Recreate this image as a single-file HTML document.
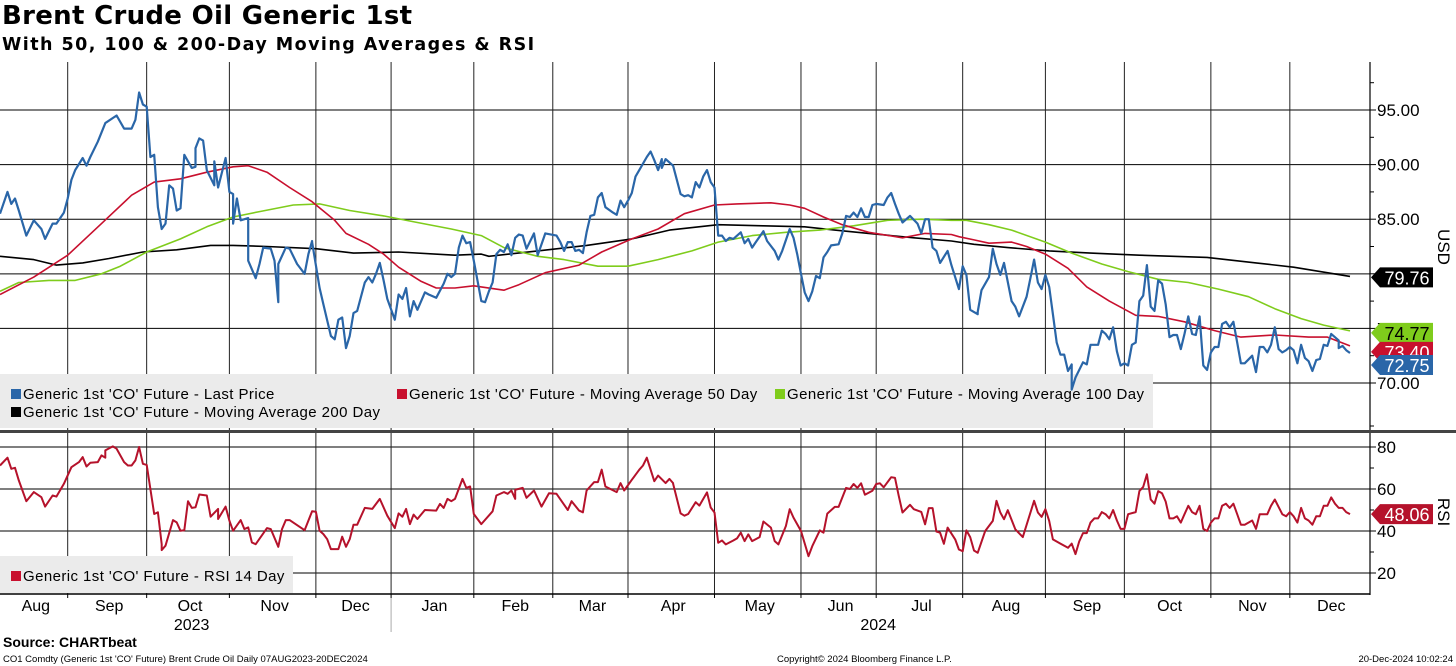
<!DOCTYPE html>
<html><head><meta charset="utf-8"><style>
html,body{margin:0;padding:0;background:#fff;width:1456px;height:666px;overflow:hidden;font-family:"Liberation Sans",sans-serif;}
#title{position:absolute;left:2px;top:1px;font-family:"DejaVu Sans",sans-serif;font-size:26px;font-weight:bold;color:#000;letter-spacing:0.3px;}
#subtitle{position:absolute;left:2px;top:35px;font-family:"DejaVu Sans",sans-serif;font-size:17.5px;font-weight:bold;color:#000;letter-spacing:1.45px;}
svg{position:absolute;left:0;top:0;}
</style></head><body>
<div id="title">Brent Crude Oil Generic 1st</div>
<div id="subtitle">With 50, 100 &amp; 200-Day Moving Averages &amp; RSI</div>
<svg id="chart" width="1456" height="666"></svg>
<script>
const priceTicks=[70,75,80,85,90,95];
const rsiTicks=[20,40,60,80];
const monthStarts=[0,18,39,61,84,104,126,147,167,190,213,233,256,278,299,322,343,364];
const monthNames=["Aug","Sep","Oct","Nov","Dec","Jan","Feb","Mar","Apr","May","Jun","Jul","Aug","Sep","Oct","Nov","Dec"];
const price=[[0,85.5],[2,87.5],[3,86.4],[4,86.9],[5,85.8],[7,83.5],[9,84.9],[11,84.1],[12,83.2],[14,84.6],[15,84.6],[17,85.6],[18,86.9],[19,88.6],[20,89.5],[22,90.6],[23,89.9],[24,90.7],[26,92.1],[28,93.8],[31,94.5],[33,93.3],[35,93.3],[36,94.1],[37,96.6],[38,95.5],[39,95.3],[40,90.7],[41,90.9],[42,86.1],[43,84.1],[44,84.6],[45,88.1],[46,87.8],[47,85.8],[48,86.0],[49,90.9],[51,89.7],[52,89.8],[52,91.5],[53,92.4],[54,92.2],[55,89.5],[57,88.1],[57,90.3],[58,87.9],[60,90.6],[61,87.5],[62,87.3],[62,84.6],[63,86.9],[64,84.9],[66,85.1],[66,81.2],[68,79.6],[69,80.9],[70,82.4],[72,82.3],[73,81.2],[74,77.4],[74,80.9],[76,82.4],[77,82.3],[79,80.9],[81,80.0],[82,81.8],[83,83.0],[83,82.9],[85,78.7],[86,77.2],[88,74.3],[89,74.0],[90,75.8],[91,76.0],[92,73.2],[93,74.3],[94,76.4],[95,76.6],[97,79.2],[98,79.7],[99,79.2],[100,80.0],[101,81.0],[102,79.4],[103,77.7],[105,75.8],[106,78.1],[107,77.7],[108,78.7],[109,76.1],[110,77.5],[111,76.7],[113,78.3],[114,78.1],[116,77.8],[118,79.1],[119,80.0],[120,79.7],[121,80.0],[122,82.4],[123,83.5],[124,82.8],[125,82.9],[126,81.2],[128,77.5],[129,77.4],[130,78.4],[131,79.2],[132,81.8],[133,82.2],[134,82.0],[135,82.7],[136,81.7],[137,83.3],[138,83.6],[139,83.5],[140,82.3],[142,83.7],[143,81.7],[145,83.7],[148,83.5],[149,82.9],[150,82.1],[151,82.9],[152,82.9],[153,82.1],[154,82.2],[155,81.9],[156,83.8],[157,85.3],[158,85.4],[159,87.0],[160,87.4],[161,86.1],[163,85.6],[164,85.4],[165,86.7],[166,86.1],[167,86.7],[168,87.4],[169,88.9],[170,89.5],[172,90.7],[173,91.2],[174,90.4],[175,89.5],[176,90.5],[176,89.7],[177,90.5],[179,89.9],[181,87.3],[182,87.1],[183,87.2],[184,87.0],[185,88.4],[186,87.9],[187,88.9],[188,89.5],[189,88.4],[190,87.9],[191,83.5],[192,83.5],[193,83.0],[194,83.3],[195,83.2],[197,83.8],[198,82.8],[199,83.2],[200,82.4],[201,82.9],[203,83.9],[204,83.0],[206,82.1],[207,81.3],[208,82.1],[210,84.1],[211,83.3],[212,81.8],[213,80.0],[214,78.3],[215,77.5],[216,78.4],[217,79.8],[218,79.6],[219,81.5],[220,82.0],[221,82.6],[223,82.7],[224,83.7],[225,85.3],[226,85.2],[227,85.6],[228,85.2],[229,86.0],[230,85.2],[231,85.2],[232,86.3],[233,86.4],[235,86.3],[236,87.0],[237,87.4],[238,86.4],[239,85.5],[240,84.7],[242,85.3],[244,84.6],[245,83.7],[246,85.0],[247,85.0],[248,82.4],[249,82.1],[250,81.0],[252,82.1],[253,80.8],[255,78.6],[256,80.7],[257,79.9],[258,76.7],[260,76.3],[260,76.5],[261,78.5],[263,79.7],[264,82.3],[265,80.9],[266,79.9],[267,81.0],[269,77.5],[270,77.0],[271,76.1],[273,77.9],[274,79.6],[275,81.3],[276,79.2],[277,78.6],[278,79.9],[279,78.8],[280,76.3],[281,73.7],[282,72.6],[283,72.6],[284,71.1],[285,71.7],[285,69.4],[286,70.5],[288,71.9],[289,71.7],[290,73.5],[292,73.5],[293,74.8],[294,74.5],[295,74.0],[296,75.1],[297,72.9],[298,71.6],[299,71.8],[300,71.6],[301,73.5],[302,73.7],[303,77.5],[304,78.0],[305,80.8],[306,77.0],[307,76.6],[308,79.4],[309,79.1],[310,77.2],[311,74.2],[312,74.4],[313,74.4],[314,73.1],[315,74.5],[316,76.1],[317,74.5],[318,74.4],[319,76.1],[320,71.6],[321,71.2],[322,72.8],[323,73.3],[324,73.3],[325,75.4],[326,75.6],[327,75.1],[328,75.6],[329,73.7],[330,71.8],[331,71.8],[333,72.5],[334,71.0],[335,73.3],[336,73.3],[337,72.8],[338,73.5],[339,75.1],[340,73.1],[341,72.8],[342,73.0],[343,73.3],[344,73.0],[345,71.8],[346,73.5],[347,72.3],[348,72.0],[349,71.1],[350,72.1],[351,72.2],[352,73.5],[353,73.4],[354,74.5],[356,73.9],[356,73.2],[357,73.4],[358,73.0],[359,72.75]];
const ma50=[[0,78.1],[9,79.7],[18,81.7],[27,84.6],[35,87.2],[41,88.4],[48,88.7],[55,89.3],[62,89.8],[66,89.9],[71,89.3],[77,87.9],[83,86.6],[89,84.9],[92,83.7],[98,82.7],[102,81.8],[106,80.6],[112,79.3],[116,78.7],[121,78.7],[126,78.9],[128,78.8],[134,78.5],[138,79.0],[145,80.1],[154,80.8],[160,82.0],[168,83.2],[175,84.1],[182,85.5],[190,86.3],[196,86.4],[205,86.5],[210,86.3],[214,86.0],[219,85.2],[224,84.5],[231,83.8],[240,83.3],[246,83.7],[253,83.6],[255,83.4],[259,83.1],[263,82.8],[269,82.9],[273,82.5],[278,81.8],[284,80.5],[289,78.8],[295,77.5],[302,76.2],[308,76.1],[315,75.6],[323,74.8],[330,74.2],[339,74.4],[348,74.2],[353,74.2],[359,73.4]];
const ma100=[[0,78.4],[5,79.2],[13,79.4],[20,79.4],[27,80.0],[32,80.7],[39,82.0],[48,83.2],[55,84.3],[62,85.2],[69,85.7],[78,86.3],[85,86.4],[93,85.8],[102,85.3],[111,84.7],[120,84.1],[128,83.5],[134,82.4],[143,81.6],[150,81.3],[159,80.7],[167,80.7],[175,81.3],[184,82.1],[191,82.9],[200,83.5],[209,83.8],[218,84.0],[227,84.4],[236,84.9],[245,85.0],[253,84.9],[257,84.9],[263,84.5],[269,84.0],[278,82.9],[285,81.9],[293,80.9],[300,80.2],[308,79.5],[316,79.2],[324,78.6],[332,77.9],[339,76.8],[346,75.9],[352,75.3],[359,74.77]];
const ma200=[[0,81.6],[9,81.3],[15,80.8],[22,81.0],[29,81.4],[38,82.0],[47,82.2],[56,82.6],[62,82.6],[71,82.5],[84,82.3],[94,81.9],[106,82.0],[121,81.7],[128,81.8],[130,81.6],[143,82.1],[156,82.6],[168,83.2],[178,84.0],[191,84.5],[203,84.4],[214,84.3],[222,84.0],[231,83.7],[243,83.3],[253,83.0],[259,82.7],[268,82.4],[279,82.1],[290,81.9],[303,81.7],[321,81.5],[334,81.0],[344,80.6],[359,79.76]];
const rsi=[[0,71.2],[2,74.9],[3,69.6],[4,70.1],[5,64.1],[7,54.2],[9,58.5],[11,56.1],[12,51.6],[14,56.9],[15,56.4],[17,62.5],[19,70.4],[21,72.8],[22,75.2],[23,70.7],[24,72.5],[26,72.8],[27,76.0],[28,74.9],[28,78.4],[30,80.3],[31,79.2],[33,72.8],[34,71.2],[35,71.2],[36,73.6],[37,80.0],[38,72.0],[39,71.5],[41,48.1],[42,48.9],[43,33.7],[43,30.9],[44,33.0],[46,45.2],[47,44.1],[48,40.1],[49,40.4],[50,54.2],[51,51.0],[52,51.3],[53,57.4],[55,56.9],[56,46.8],[58,50.5],[58,45.7],[60,51.6],[61,44.9],[61,44.9],[62,40.1],[64,45.2],[65,40.9],[66,41.7],[67,34.5],[68,33.7],[71,41.4],[72,40.9],[74,32.5],[75,40.9],[76,45.2],[77,45.2],[81,40.4],[83,49.4],[84,49.2],[85,40.1],[86,38.5],[87,36.1],[88,31.4],[90,31.4],[91,37.3],[92,32.5],[93,36.1],[94,43.0],[95,43.0],[97,51.0],[99,50.5],[101,55.3],[103,47.3],[105,41.4],[106,48.4],[107,46.8],[108,50.5],[109,43.3],[110,47.8],[111,45.7],[113,50.0],[116,49.7],[117,52.9],[118,51.0],[119,55.3],[120,54.2],[121,55.3],[123,64.8],[124,60.5],[125,61.2],[126,48.1],[128,43.3],[131,49.4],[132,56.9],[134,58.5],[135,57.7],[136,59.3],[137,55.3],[137,59.6],[139,60.5],[140,55.8],[142,59.3],[144,51.6],[146,58.0],[148,57.7],[151,50.0],[152,54.2],[154,49.7],[155,48.9],[156,59.3],[158,63.3],[159,63.3],[160,69.2],[161,61.2],[164,58.5],[165,62.8],[166,59.3],[168,64.4],[170,69.2],[171,71.2],[172,74.9],[174,63.7],[175,66.4],[177,62.8],[178,64.8],[179,62.8],[179,62.5],[181,48.4],[182,47.3],[183,48.1],[185,53.7],[186,52.1],[188,58.4],[189,51.2],[190,48.8],[191,34.4],[192,35.5],[193,33.6],[195,35.5],[196,36.5],[197,39.2],[198,35.2],[199,38.4],[200,35.2],[202,37.1],[203,44.5],[205,41.6],[206,35.2],[207,33.6],[209,42.4],[210,50.4],[211,46.4],[213,40.0],[215,28.0],[216,32.8],[218,40.3],[219,39.2],[220,48.3],[222,51.5],[223,51.5],[225,60.5],[226,60.0],[227,62.4],[228,60.5],[229,62.7],[230,57.3],[232,59.2],[233,62.4],[234,62.7],[235,60.8],[237,65.6],[238,65.3],[239,56.8],[240,48.8],[242,52.5],[243,50.4],[245,49.1],[246,43.2],[247,50.9],[248,50.9],[249,39.7],[250,39.2],[251,33.9],[252,41.6],[254,36.0],[255,31.2],[256,30.4],[257,40.3],[258,37.1],[259,30.7],[260,29.6],[262,40.0],[264,44.8],[265,54.4],[266,48.8],[267,45.6],[268,49.9],[270,40.8],[272,37.1],[275,54.4],[276,48.8],[277,46.7],[278,50.4],[279,44.8],[280,36],[282,34],[284,32],[285,34],[286,29],[287,35],[288,39],[289,39],[290,44],[291,46],[292,46],[293,49],[294,48],[295,46],[296,50],[297,45],[298,41],[299,41],[300,48],[302,49],[303,59],[304,61],[305,67],[306,55],[307,53],[308,59],[309,58],[310,54],[311,46],[312,46],[313,47],[314,44],[315,48],[316,52],[317,49],[318,48],[319,52],[320,41],[321,40],[322,44],[323,46],[324,46],[325,52],[326,53],[327,51],[328,53],[329,48],[330,43],[331,43],[333,45],[334,41],[335,48],[337,48],[338,52],[339,55],[341,48],[342,47],[343,49],[344,47],[345,44],[346,51],[347,46],[348,45],[349,43],[350,47],[351,47],[352,52],[353,52],[354,56],[355,53],[356,51],[357,51],[358,49],[359,48.06]];
const lastLabels=[["79.76",79.76,"#000","#fff"],["74.77",74.77,"#7fcc1c","#000"],["73.40",73.40,"#c8102e","#fff"],["72.75",72.75,"#2a66a8","#fff"]];
const rsiLast="48.06";

const NS="http://www.w3.org/2000/svg";
const svg=document.getElementById('chart');
const PLOT_R=1370, T_MAX=359, X_MAX=1350;
function xS(t){return t*X_MAX/T_MAX;}
function yP(p){return 383-(p-70)*10.92;}
function yR(r){return 447+(80-r)*2.1;}
function mk(tag,attrs,parent){const e=document.createElementNS(NS,tag);for(const k in attrs)e.setAttribute(k,attrs[k]);(parent||svg).appendChild(e);return e;}

priceTicks.forEach(v=>{
  const l=mk('line',{x1:0,x2:PLOT_R,y1:yP(v),y2:yP(v),stroke:v===80?'#666':'#000','stroke-width':v===80?1.6:1});
  
  
  mk('line',{x1:PLOT_R,x2:PLOT_R+6,y1:yP(v),y2:yP(v),stroke:'#000'});
  const t=mk('text',{x:PLOT_R+7,y:yP(v)+6,'font-size':17,fill:'#000'});t.textContent=v.toFixed(2);
  
  
  mk('line',{x1:PLOT_R,x2:PLOT_R+4,y1:yP(v+2.5),y2:yP(v+2.5),stroke:'#000'});
});
rsiTicks.forEach(v=>{
  const l=mk('line',{x1:0,x2:PLOT_R,y1:yR(v),y2:yR(v),stroke:(v===60||v===80)?'#555':'#000','stroke-width':(v===60||v===80)?1.6:1});
  
  
  mk('line',{x1:PLOT_R,x2:PLOT_R+6,y1:yR(v),y2:yR(v),stroke:'#000'});
  mk('line',{x1:PLOT_R,x2:PLOT_R+4,y1:yR(v+10),y2:yR(v+10),stroke:'#000'});
  const t=mk('text',{x:PLOT_R+7,y:yR(v)+6,'font-size':17,fill:'#000'});t.textContent=v;
  
  
});
monthStarts.forEach((m,i)=>{
  if(i>0&&i<monthStarts.length-1){
    const l=mk('line',{x1:xS(m),x2:xS(m),y1:62,y2:594,stroke:'#222','stroke-width':1});
    
    
    mk('line',{x1:xS(m),x2:xS(m),y1:594,y2:598,stroke:'#000'});
  }
  if(i<monthNames.length){
    const cx=(xS(m)+xS(monthStarts[i+1]))/2+2;
    const t=mk('text',{x:cx,y:611,'font-size':16,'text-anchor':'middle',fill:'#000'});t.textContent=monthNames[i];
    
    
  }
});
[["2023",xS(39)+45],["2024",xS(233)+2]].forEach(([y,x])=>{
  const t=mk('text',{x:x,y:630,'font-size':16,'text-anchor':'middle',fill:'#000'});t.textContent=y;
  
  
});
mk('line',{x1:xS(104),x2:xS(104),y1:598,y2:632,stroke:'#aaa'});
mk('line',{x1:PLOT_R,x2:PLOT_R,y1:62,y2:595,stroke:'#000','stroke-width':1.2});
mk('line',{x1:0,x2:PLOT_R,y1:594,y2:594,stroke:'#000','stroke-width':1.5});
mk('rect',{x:0,y:430,width:1456,height:3,fill:'#444'});
const lg=mk('rect',{x:0,y:374,width:1153,height:54,fill:'#ebebeb'});


const rl=mk('rect',{x:0,y:556,width:293,height:37,fill:'#ebebeb'});


function legend(x,y,color,txt,name){
  const g=mk('g',{});
  
  
  mk('rect',{x:x,y:y-10,width:10,height:10,fill:color},g);
  const t=mk('text',{x:x+12,y:y,'font-size':15,'letter-spacing':0.42,fill:'#000'},g);t.textContent=txt;
}
legend(11,399,'#2a66a8',"Generic 1st 'CO' Future - Last Price",'legend-entry-last-price');
legend(397,399,'#c8102e',"Generic 1st 'CO' Future - Moving Average 50 Day",'legend-entry-ma50');
legend(775,399,'#7fcc1c',"Generic 1st 'CO' Future - Moving Average 100 Day",'legend-entry-ma100');
legend(11,417,'#000',"Generic 1st 'CO' Future - Moving Average 200 Day",'legend-entry-ma200');
legend(11,581,'#c8102e',"Generic 1st 'CO' Future - RSI 14 Day",'legend-entry-rsi');
function line(data,yf,color,w,name){
  const p=mk('polyline',{points:data.map(d=>xS(d[0]).toFixed(1)+','+yf(d[1]).toFixed(1)).join(' '),fill:'none',stroke:color,'stroke-width':w,'stroke-linejoin':'round'});
  
  
}
line(ma200,yP,'#000',1.6,'ma200-line');
line(ma100,yP,'#7fcc1c',1.6,'ma100-line');
line(ma50,yP,'#c8102e',1.6,'ma50-line');
line(price,yP,'#2a66a8',2.2,'price-line');
line(rsi,yR,'#b5122b',2,'rsi-line');
function tag(txt,cy,bg,fg,name){
  const g=mk('g',{});
  
  
  mk('polygon',{points:`${PLOT_R+1},${cy} ${PLOT_R+10},${cy-10} ${PLOT_R+63},${cy-10} ${PLOT_R+63},${cy+10} ${PLOT_R+10},${cy+10}`,fill:bg},g);
  const t=mk('text',{x:PLOT_R+37,y:cy+7,'font-size':18,'text-anchor':'middle',fill:fg},g);t.textContent=txt;
}
tag(lastLabels[0][0],yP(lastLabels[0][1])+1,lastLabels[0][2],lastLabels[0][3],'last-label-ma200');
tag(lastLabels[1][0],yP(lastLabels[1][1])+2,lastLabels[1][2],lastLabels[1][3],'last-label-ma100');
tag(lastLabels[2][0],yP(lastLabels[2][1])+6,lastLabels[2][2],lastLabels[2][3],'last-label-ma50');
tag(lastLabels[3][0],yP(lastLabels[3][1])+12,lastLabels[3][2],lastLabels[3][3],'last-label-price');
tag(rsiLast,yR(parseFloat(rsiLast)),'#b5122b','#fff','last-label-rsi');
const u=mk('text',{x:1438,y:247,'font-size':17,'text-anchor':'middle',fill:'#000',transform:'rotate(90 1438 247)'});u.textContent='USD';


const r=mk('text',{x:1438,y:512,'font-size':17,'text-anchor':'middle',fill:'#000',transform:'rotate(90 1438 512)'});r.textContent='RSI';


const s=mk('text',{x:3,y:647,'font-size':14,'font-weight':'bold',fill:'#000'});s.textContent='Source: CHARTbeat';


const f1=mk('text',{x:3,y:662,'font-size':9.5,fill:'#000'});f1.textContent="CO1 Comdty (Generic 1st 'CO' Future) Brent Crude Oil  Daily 07AUG2023-20DEC2024";


const f2=mk('text',{x:777,y:662,'font-size':9.5,fill:'#000'});f2.textContent="Copyright© 2024 Bloomberg Finance L.P.";


const f3=mk('text',{x:1453,y:662,'font-size':9.5,'text-anchor':'end',fill:'#000'});f3.textContent="20-Dec-2024 10:02:24";


</script>
</body></html>
